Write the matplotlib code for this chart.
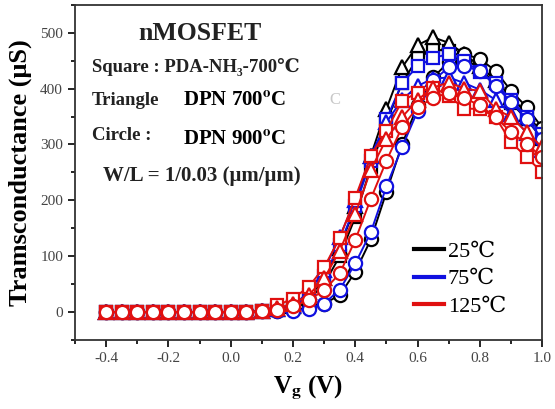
import matplotlib
matplotlib.use('Agg')
import matplotlib.pyplot as plt
from matplotlib.ticker import MultipleLocator
from matplotlib.lines import Line2D

plt.rcParams['font.family'] = ['Liberation Serif', 'DejaVu Serif']
plt.rcParams['mathtext.fontset'] = 'stix'

# gate voltage, -0.4 .. 1.0 V in 0.05 V steps
vg = [-0.4, -0.35, -0.3, -0.25, -0.2, -0.15, -0.1, -0.05, 0.0, 0.05, 0.1, 0.15,
      0.2, 0.25, 0.3, 0.35, 0.4, 0.45, 0.5, 0.55, 0.6, 0.65, 0.7, 0.75, 0.8,
      0.85, 0.9, 0.95, 1.0]
off = [0, 0, 0, 0, 0, 0, 0, 0, 0, 0, 1]

# 25 C
gm_25_sq = off + [4, 8, 22, 50, 100, 170, 260, 340, 410, 455, 470, 468, 455, 435, 410, 375, 345, 310]
gm_25_tri = off + [5, 10, 25, 60, 115, 190, 280, 364, 438, 478, 492, 482, 462, 440, 415, 385, 355, 320]
gm_25_cir = off + [1, 3, 8, 15, 30, 72, 130, 215, 300, 370, 420, 448, 462, 453, 432, 396, 367, 330]
# 75 C
gm_75_sq = off + [6, 10, 30, 65, 120, 190, 270, 345, 410, 440, 455, 462, 450, 430, 410, 380, 350, 318]
gm_75_tri = off + [6, 12, 35, 75, 135, 200, 280, 340, 380, 405, 418, 420, 410, 398, 380, 355, 320, 290]
gm_75_cir = off + [1, 2, 6, 15, 40, 87, 143, 225, 295, 360, 415, 438, 440, 432, 405, 376, 346, 310]
# 125 C
gm_125_sq = off + [12, 24, 45, 80, 133, 205, 280, 325, 378, 393, 402, 387, 364, 364, 349, 304, 277, 250]
gm_125_tri = off + [7, 15, 30, 60, 110, 175, 255, 310, 349, 380, 402, 411, 400, 396, 364, 349, 322, 295]
gm_125_cir = off + [3, 10, 21, 39, 69, 129, 203, 271, 331, 367, 383, 393, 383, 370, 349, 322, 301, 277]

temps = ['25\u2103', '75\u2103', '125\u2103']
colors = ['black', '#1010e0', '#e01010']
series = [
    (gm_25_sq, gm_25_tri, gm_25_cir),
    (gm_75_sq, gm_75_tri, gm_75_cir),
    (gm_125_sq, gm_125_tri, gm_125_cir),
]
markers = ['s', '^', 'o']
msizes = [8.5, 9.5, 9.5]

fig = plt.figure(figsize=(5.55, 4.09), dpi=100)
ax = fig.add_axes([0.135, 0.169, 0.842, 0.819])

for color, group in zip(colors, series):
    for gm, mk, ms in zip(group, markers, msizes):
        ax.plot(vg, gm, color=color, marker=mk, markersize=ms, markerfacecolor='white',
                markeredgecolor=color, markeredgewidth=1.6, linewidth=1.4)

ax.set_xlim(-0.5, 1.0)
ax.set_ylim(-50, 550)
ax.xaxis.set_minor_locator(MultipleLocator(0.1))
ax.yaxis.set_minor_locator(MultipleLocator(50))
ax.set_xticks([-0.4, -0.2, 0.0, 0.2, 0.4, 0.6, 0.8, 1.0])
ax.set_xticklabels(['-0.4', '-0.2', '0.0', '0.2', '0.4', '0.6', '0.8', '1.0'])
ax.set_yticks([0, 100, 200, 300, 400, 500])
ax.tick_params(which='both', direction='out', top=False, right=False,
               labelsize=11, labelcolor='#444444', width=1.2)
ax.tick_params(which='major', length=5)
ax.tick_params(which='minor', length=3)
for sp in ax.spines.values():
    sp.set_linewidth(1.3)
    sp.set_color('#333333')

ax.set_xlabel('V$_\\mathbf{g}$ (V)', fontsize=18, fontweight='bold', labelpad=6)
ax.set_ylabel('Tramsconductance (\u03bcS)', fontsize=19, fontweight='bold', labelpad=6)

txt = dict(transform=ax.transAxes, fontweight='bold', va='center', ha='left')
ax.text(0.135, 0.916, 'nMOSFET', fontsize=18.5, color='#222222', **txt)
ax.text(0.037, 0.815, 'Square : PDA-NH\u2083-700\u2103', fontsize=13.5, color='#222222', **txt)
ax.text(0.037, 0.716, 'Triangle', fontsize=13.5, color='#222222', **txt)
ax.text(0.232, 0.713, 'DPN 700$^\\mathbf{o}$C', fontsize=15, color='black', **txt)
ax.text(0.545, 0.716, 'C', fontsize=12, color='#c8c8c8', transform=ax.transAxes,
        va='center', ha='left')
ax.text(0.037, 0.61, 'Circle :', fontsize=13.5, color='#222222', **txt)
ax.text(0.232, 0.597, 'DPN 900$^\\mathbf{o}$C', fontsize=15, color='black', **txt)
ax.text(0.06, 0.49, 'W/L = 1/0.03 (\u03bcm/\u03bcm)', fontsize=15, color='#222222', **txt)

handles = [Line2D([0], [0], color=c, linewidth=3) for c in colors]
ax.legend(handles, temps, loc='lower right', bbox_to_anchor=(0.965, 0.01), frameon=False,
          handlelength=1.35, handletextpad=0.15, labelspacing=0.3,
          prop={'size': 16})

fig.savefig('out.png', dpi=100)
